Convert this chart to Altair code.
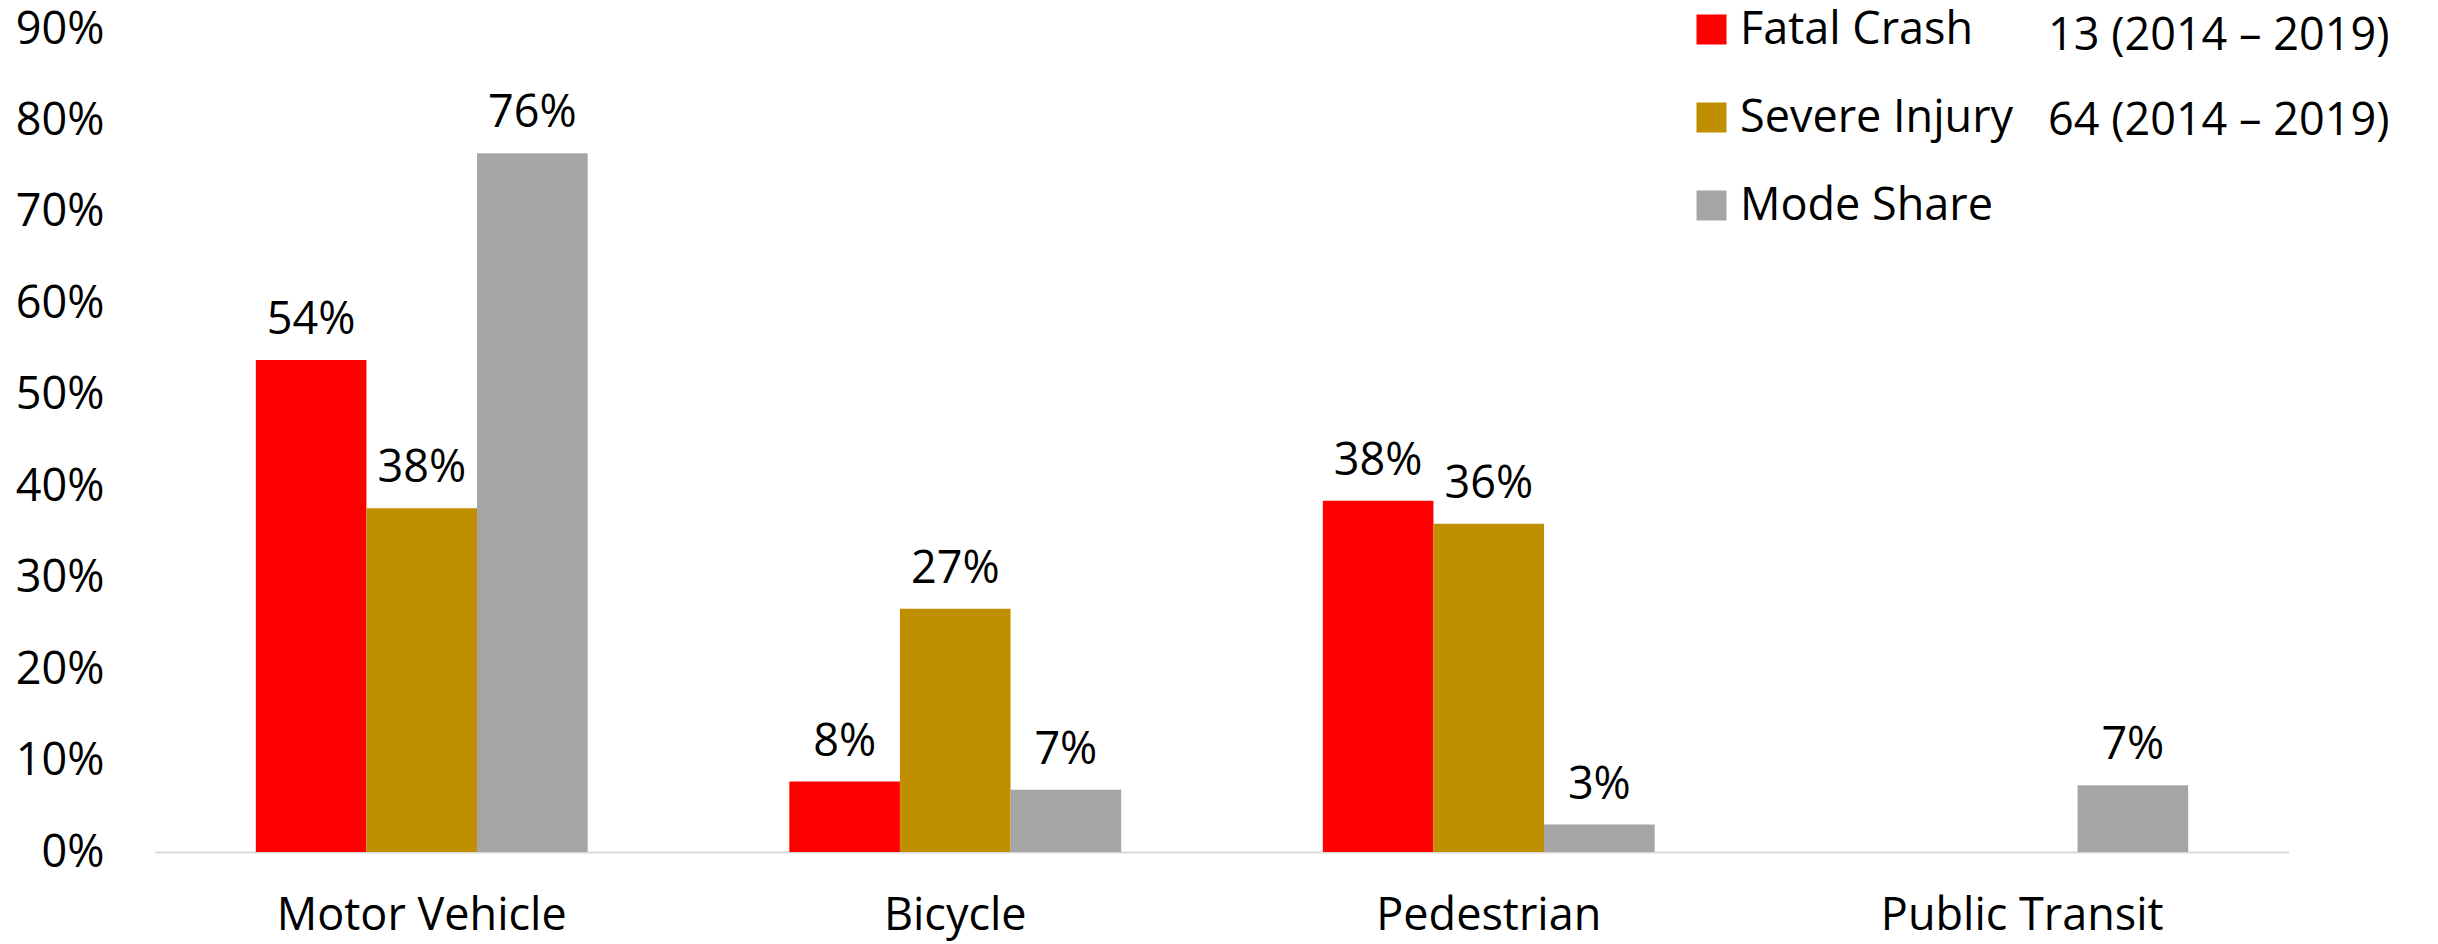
import altair as alt
import pandas as pd

categories = ["Motor Vehicle", "Bicycle", "Pedestrian", "Public Transit"]
series = ["Fatal Crash", "Severe Injury", "Mode Share"]
fatal = [0.538, 0.077, 0.384, 0.0]
severe = [0.376, 0.266, 0.359, 0.0]
mode_share = [0.764, 0.068, 0.030, 0.073]
colors = ["#FF0000", "#BF8F00", "#A5A5A5"]
count_lines = ["13 (2014 \u2013 2019)", "64 (2014 \u2013 2019)"]
y_ticks = [0, 0.1, 0.2, 0.3, 0.4, 0.5, 0.6, 0.7, 0.8, 0.9]

rows = []
for s, vals in zip(series, [fatal, severe, mode_share]):
    for c, v in zip(categories, vals):
        if v > 0:
            rows.append({"category": c, "series": s, "value": v})
df = pd.DataFrame(rows)

FONT = "Open Sans"
FS = 45

x_enc = alt.X("category:N", sort=categories,
              scale=alt.Scale(paddingInner=0.378, paddingOuter=0.189),
              axis=alt.Axis(title=None, labelAngle=0, ticks=False, tickSize=0,
                            labelPadding=77, labelBaseline="alphabetic", labelLimit=0,
                            labelFont=FONT, labelFontSize=FS, labelColor="#000000",
                            domainColor="#D9D9D9", domainWidth=2, grid=False))
y_enc = alt.Y("value:Q", scale=alt.Scale(domain=[0, 0.9], nice=False),
              axis=alt.Axis(title=None, format=".0%", values=y_ticks, ticks=False, tickSize=0,
                            labelPadding=51, labelFont=FONT, labelFontSize=FS,
                            labelColor="#000000", domain=False, grid=False,
                            labelBaseline="middle"))
xoff = alt.XOffset("series:N", sort=series)

bars = alt.Chart(df).mark_bar().encode(
    x=x_enc,
    xOffset=xoff,
    y=y_enc,
    color=alt.Color("series:N", sort=series,
                    scale=alt.Scale(domain=series, range=colors),
                    legend=alt.Legend(title=None, orient="none", legendX=1534, legendY=-22,
                                      symbolType="square", symbolSize=900,
                                      symbolStrokeWidth=0, labelFont=FONT,
                                      labelFontSize=FS, labelColor="#000000", labelLimit=0,
                                      labelOffset=6, rowPadding=42, padding=0)),
)

labels = alt.Chart(df).mark_text(dy=-26, baseline="alphabetic", font=FONT,
                                 fontSize=FS, color="#000000").encode(
    x=alt.X("category:N", sort=categories),
    xOffset=xoff,
    y=alt.Y("value:Q"),
    text=alt.Text("value:Q", format=".0%"),
)

counts = alt.Chart(pd.DataFrame({"k": [0]})).mark_text(
    text=count_lines, lineHeight=85, align="left", baseline="alphabetic",
    font=FONT, fontSize=FS, color="#000000"
).encode(x=alt.value(1893), y=alt.value(21))

chart = alt.layer(bars, labels, counts).properties(
    width=2134, height=823,
    autosize=alt.AutoSizeParams(type="none"),
    padding={"left": 147, "top": 21, "right": 141, "bottom": 90},
).configure_view(stroke=None)

chart.save("out.html", embed_options={"renderer": "svg", "actions": False})
